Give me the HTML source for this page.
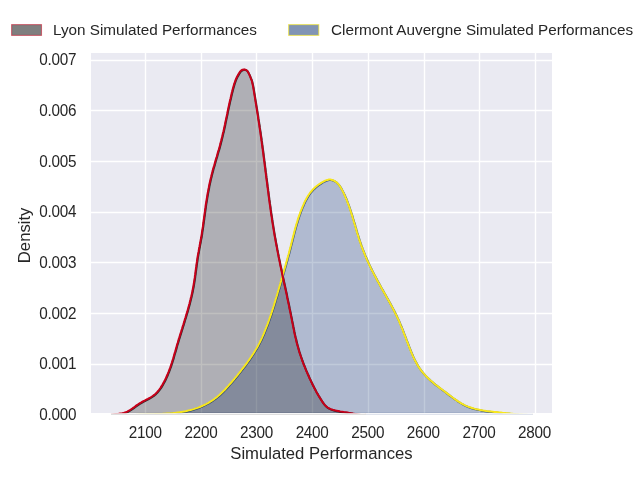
<!DOCTYPE html>
<html lang="en">
<head>
<meta charset="utf-8">
<title>Simulated Performances</title>
<style>
html,body{margin:0;padding:0;background:#fff;}
body{width:640px;height:480px;overflow:hidden;}
svg{display:block;}
text{font-family:"Liberation Sans",sans-serif;fill:#262626;}
.tick text{font-size:15.28px;letter-spacing:-0.25px;}
.lab{font-size:16.67px;}
.leg text{font-size:15.28px;}
</style>
</head>
<body>
<svg width="640" height="480" viewBox="0 0 640 480">
<defs>
<clipPath id="axf"><rect x="91" y="53" width="461" height="360"/></clipPath>
<clipPath id="axl"><rect x="91" y="53" width="461" height="361"/></clipPath>
</defs>
<rect x="0" y="0" width="640" height="480" fill="#ffffff"/>
<rect x="91" y="53" width="461" height="360" fill="#eaeaf2"/>
<g stroke="#ffffff" stroke-width="1.39" stroke-linecap="butt">
<line x1="145.5" y1="53" x2="145.5" y2="413"/>
<line x1="201.5" y1="53" x2="201.5" y2="413"/>
<line x1="256.5" y1="53" x2="256.5" y2="413"/>
<line x1="312.5" y1="53" x2="312.5" y2="413"/>
<line x1="368.5" y1="53" x2="368.5" y2="413"/>
<line x1="424.5" y1="53" x2="424.5" y2="413"/>
<line x1="479.5" y1="53" x2="479.5" y2="413"/>
<line x1="535.5" y1="53" x2="535.5" y2="413"/>
<line x1="91" y1="364.5" x2="552" y2="364.5"/>
<line x1="91" y1="313.5" x2="552" y2="313.5"/>
<line x1="91" y1="262.5" x2="552" y2="262.5"/>
<line x1="91" y1="212.5" x2="552" y2="212.5"/>
<line x1="91" y1="161.5" x2="552" y2="161.5"/>
<line x1="91" y1="110.5" x2="552" y2="110.5"/>
<line x1="91" y1="60.5" x2="552" y2="60.5"/>
</g>
<g clip-path="url(#axf)">
<path d="M136.0,414.8 L137.6,414.7 L139.2,414.6 L140.8,414.5 L142.4,414.5 L144.1,414.4 L145.7,414.4 L147.3,414.3 L148.9,414.3 L150.5,414.2 L152.1,414.2 L153.8,414.2 L155.4,414.1 L157.0,414.1 L158.6,414.0 L160.2,413.9 L161.9,413.9 L163.5,413.8 L165.1,413.7 L166.7,413.6 L168.3,413.5 L169.9,413.4 L171.5,413.2 L173.1,413.1 L174.7,412.9 L176.3,412.7 L177.9,412.5 L179.5,412.3 L181.1,412.0 L182.7,411.8 L184.3,411.5 L185.9,411.2 L187.4,410.8 L189.0,410.4 L190.6,410.0 L192.1,409.6 L193.7,409.1 L195.2,408.6 L196.7,408.1 L198.3,407.6 L199.8,407.0 L201.3,406.3 L202.8,405.7 L204.2,405.0 L205.7,404.3 L207.1,403.5 L208.5,402.8 L209.9,401.9 L211.3,401.1 L212.6,400.2 L214.0,399.3 L215.3,398.3 L216.5,397.4 L217.8,396.3 L219.0,395.3 L220.2,394.2 L221.4,393.1 L222.5,392.0 L223.7,390.8 L224.8,389.7 L225.9,388.5 L227.0,387.3 L228.1,386.1 L229.1,384.9 L230.2,383.7 L231.3,382.5 L232.3,381.3 L233.4,380.0 L234.4,378.8 L235.4,377.6 L236.5,376.3 L237.5,375.1 L238.5,373.8 L239.5,372.5 L240.5,371.3 L241.5,370.0 L242.5,368.7 L243.5,367.5 L244.5,366.2 L245.5,364.9 L246.4,363.6 L247.4,362.3 L248.3,361.0 L249.3,359.6 L250.2,358.3 L251.1,357.0 L252.0,355.6 L252.9,354.3 L253.7,352.9 L254.6,351.6 L255.4,350.2 L256.3,348.8 L257.1,347.4 L257.9,346.0 L258.6,344.6 L259.4,343.1 L260.1,341.7 L260.8,340.3 L261.5,338.8 L262.2,337.3 L262.8,335.9 L263.5,334.4 L264.1,332.9 L264.7,331.4 L265.3,329.9 L265.9,328.4 L266.5,326.9 L267.1,325.4 L267.7,323.9 L268.2,322.3 L268.8,320.8 L269.3,319.3 L269.8,317.8 L270.4,316.2 L270.9,314.7 L271.4,313.2 L271.9,311.6 L272.4,310.1 L272.9,308.6 L273.4,307.0 L273.9,305.5 L274.3,303.9 L274.8,302.4 L275.3,300.9 L275.7,299.3 L276.2,297.8 L276.7,296.2 L277.1,294.7 L277.6,293.1 L278.0,291.6 L278.5,290.0 L278.9,288.5 L279.4,286.9 L279.8,285.4 L280.3,283.8 L280.7,282.3 L281.2,280.7 L281.6,279.2 L282.1,277.6 L282.5,276.0 L282.9,274.5 L283.4,272.9 L283.8,271.4 L284.3,269.8 L284.7,268.3 L285.1,266.7 L285.6,265.2 L286.0,263.6 L286.4,262.1 L286.9,260.5 L287.3,258.9 L287.7,257.4 L288.1,255.8 L288.6,254.3 L289.0,252.7 L289.4,251.1 L289.8,249.6 L290.2,248.0 L290.6,246.4 L291.0,244.9 L291.4,243.3 L291.8,241.7 L292.2,240.2 L292.6,238.6 L293.0,237.0 L293.4,235.5 L293.8,233.9 L294.2,232.3 L294.6,230.8 L295.0,229.2 L295.4,227.7 L295.9,226.1 L296.3,224.6 L296.8,223.0 L297.3,221.5 L297.7,219.9 L298.2,218.4 L298.7,216.9 L299.2,215.3 L299.8,213.8 L300.3,212.3 L300.9,210.8 L301.5,209.3 L302.1,207.8 L302.7,206.3 L303.4,204.8 L304.0,203.3 L304.7,201.8 L305.4,200.4 L306.2,199.0 L307.0,197.5 L307.8,196.2 L308.7,194.8 L309.6,193.5 L310.5,192.2 L311.6,191.0 L312.6,189.8 L313.7,188.7 L314.9,187.6 L316.1,186.5 L317.4,185.5 L318.7,184.5 L320.1,183.6 L321.5,182.7 L323.0,181.8 L324.4,181.0 L325.9,180.4 L327.5,179.9 L329.0,179.6 L330.5,179.6 L332.0,179.9 L333.5,180.5 L334.9,181.2 L336.2,182.1 L337.4,183.2 L338.5,184.4 L339.5,185.6 L340.4,187.0 L341.2,188.4 L342.0,189.9 L342.8,191.4 L343.5,192.9 L344.2,194.3 L344.9,195.8 L345.5,197.3 L346.2,198.8 L346.8,200.3 L347.3,201.8 L347.9,203.3 L348.5,204.8 L349.0,206.3 L349.5,207.8 L350.0,209.3 L350.5,210.8 L351.0,212.3 L351.5,213.9 L352.0,215.4 L352.5,217.0 L352.9,218.5 L353.4,220.0 L353.8,221.6 L354.3,223.2 L354.8,224.7 L355.2,226.3 L355.7,227.8 L356.1,229.4 L356.6,230.9 L357.0,232.5 L357.5,234.0 L358.0,235.6 L358.5,237.1 L358.9,238.7 L359.4,240.2 L360.0,241.8 L360.5,243.3 L361.0,244.8 L361.6,246.3 L362.1,247.9 L362.7,249.4 L363.3,250.9 L363.9,252.4 L364.5,253.9 L365.1,255.4 L365.7,256.8 L366.4,258.3 L367.0,259.8 L367.7,261.3 L368.3,262.7 L369.0,264.2 L369.7,265.6 L370.4,267.1 L371.1,268.6 L371.8,270.0 L372.5,271.4 L373.3,272.9 L374.0,274.3 L374.8,275.7 L375.5,277.2 L376.3,278.6 L377.0,280.0 L377.8,281.4 L378.6,282.9 L379.4,284.3 L380.2,285.7 L380.9,287.1 L381.7,288.5 L382.5,289.9 L383.3,291.3 L384.1,292.7 L384.9,294.1 L385.7,295.5 L386.5,297.0 L387.3,298.4 L388.1,299.8 L388.9,301.2 L389.7,302.6 L390.4,304.0 L391.2,305.4 L392.0,306.9 L392.7,308.3 L393.5,309.7 L394.2,311.1 L394.9,312.6 L395.6,314.0 L396.4,315.5 L397.0,316.9 L397.7,318.4 L398.4,319.9 L399.1,321.3 L399.7,322.8 L400.3,324.3 L400.9,325.8 L401.6,327.3 L402.2,328.8 L402.8,330.3 L403.3,331.8 L403.9,333.3 L404.5,334.8 L405.1,336.3 L405.7,337.8 L406.2,339.3 L406.8,340.8 L407.4,342.4 L408.0,343.9 L408.5,345.4 L409.1,346.9 L409.7,348.4 L410.3,349.9 L410.9,351.4 L411.5,352.9 L412.2,354.4 L412.8,355.9 L413.5,357.4 L414.2,358.9 L414.9,360.3 L415.7,361.7 L416.4,363.1 L417.2,364.5 L418.0,365.9 L418.9,367.3 L419.8,368.6 L420.7,369.9 L421.7,371.2 L422.7,372.4 L423.8,373.7 L424.8,374.9 L425.9,376.0 L427.1,377.2 L428.2,378.3 L429.4,379.4 L430.6,380.5 L431.9,381.6 L433.1,382.6 L434.3,383.7 L435.6,384.7 L436.9,385.7 L438.1,386.6 L439.4,387.6 L440.7,388.6 L442.0,389.5 L443.3,390.5 L444.6,391.4 L445.8,392.4 L447.1,393.4 L448.4,394.4 L449.7,395.4 L451.0,396.3 L452.3,397.3 L453.6,398.3 L455.0,399.2 L456.3,400.1 L457.6,401.1 L459.0,401.9 L460.4,402.8 L461.8,403.6 L463.2,404.4 L464.6,405.1 L466.1,405.8 L467.5,406.4 L469.0,407.0 L470.5,407.5 L472.1,408.0 L473.6,408.5 L475.2,408.9 L476.8,409.2 L478.4,409.6 L480.0,409.9 L481.5,410.2 L483.1,410.5 L484.7,410.7 L486.3,411.0 L487.9,411.2 L489.5,411.4 L491.1,411.6 L492.7,411.8 L494.4,412.0 L496.0,412.1 L497.6,412.3 L499.2,412.5 L500.8,412.6 L502.4,412.8 L504.0,412.9 L505.6,413.1 L507.2,413.2 L508.8,413.4 L510.4,413.6 L512.0,413.7 L513.6,413.9 L515.2,414.1 L516.9,414.2 L518.5,414.4 L520.1,414.5 L521.7,414.6 L523.3,414.7 L524.9,414.8 L526.5,414.8 L528.1,414.9 L529.8,414.9 L531.4,414.9 L533.0,414.8 L533.0,416.0 L136.0,416.0 Z" fill="#042a6a" fill-opacity="0.25"/>
<path d="M110.8,414.7 L112.6,414.5 L114.4,414.3 L116.3,414.1 L118.2,413.9 L120.1,413.6 L122.0,413.3 L123.8,412.9 L125.6,412.3 L127.2,411.6 L128.9,410.7 L130.4,409.8 L132.0,408.7 L133.5,407.7 L135.0,406.6 L136.5,405.4 L138.1,404.4 L139.6,403.3 L141.3,402.4 L142.9,401.4 L144.6,400.6 L146.3,399.7 L147.9,398.9 L149.6,398.0 L151.2,397.0 L152.7,396.0 L154.2,394.9 L155.6,393.7 L156.9,392.4 L158.1,391.0 L159.3,389.5 L160.4,388.0 L161.4,386.4 L162.4,384.8 L163.3,383.1 L164.2,381.5 L165.1,379.8 L165.9,378.2 L166.6,376.5 L167.4,374.8 L168.1,373.0 L168.8,371.3 L169.4,369.6 L170.1,367.8 L170.7,366.1 L171.3,364.3 L171.9,362.5 L172.4,360.8 L173.0,359.0 L173.5,357.2 L174.0,355.4 L174.5,353.6 L175.1,351.8 L175.6,350.0 L176.1,348.2 L176.6,346.4 L177.1,344.6 L177.7,342.8 L178.2,341.0 L178.7,339.2 L179.3,337.5 L179.8,335.7 L180.4,333.9 L181.0,332.1 L181.5,330.3 L182.1,328.5 L182.6,326.7 L183.2,325.0 L183.7,323.2 L184.3,321.4 L184.8,319.6 L185.4,317.8 L185.9,316.0 L186.4,314.2 L187.0,312.4 L187.5,310.7 L188.0,308.9 L188.5,307.1 L189.0,305.3 L189.5,303.5 L189.9,301.7 L190.4,299.8 L190.8,298.0 L191.3,296.2 L191.7,294.4 L192.1,292.6 L192.5,290.8 L192.8,288.9 L193.2,287.1 L193.5,285.3 L193.8,283.4 L194.1,281.6 L194.4,279.7 L194.7,277.9 L194.9,276.0 L195.2,274.2 L195.4,272.3 L195.7,270.5 L195.9,268.6 L196.2,266.7 L196.4,264.9 L196.7,263.0 L197.0,261.2 L197.2,259.3 L197.5,257.5 L197.8,255.6 L198.1,253.8 L198.5,252.0 L198.8,250.1 L199.1,248.3 L199.5,246.5 L199.8,244.6 L200.2,242.8 L200.5,241.0 L200.8,239.1 L201.2,237.3 L201.5,235.5 L201.8,233.6 L202.0,231.8 L202.3,229.9 L202.6,228.1 L202.9,226.2 L203.1,224.4 L203.4,222.5 L203.6,220.7 L203.9,218.8 L204.1,217.0 L204.4,215.1 L204.6,213.3 L204.9,211.4 L205.1,209.6 L205.4,207.7 L205.6,205.9 L205.9,204.0 L206.2,202.2 L206.5,200.3 L206.8,198.5 L207.1,196.6 L207.4,194.8 L207.7,193.0 L208.1,191.1 L208.4,189.3 L208.8,187.5 L209.1,185.6 L209.5,183.8 L209.9,182.0 L210.3,180.2 L210.7,178.4 L211.2,176.5 L211.6,174.7 L212.1,172.9 L212.6,171.1 L213.0,169.3 L213.5,167.5 L214.1,165.7 L214.6,163.9 L215.1,162.1 L215.6,160.3 L216.1,158.5 L216.7,156.7 L217.2,154.9 L217.7,153.1 L218.2,151.3 L218.8,149.5 L219.3,147.7 L219.8,145.9 L220.3,144.1 L220.7,142.3 L221.2,140.5 L221.6,138.7 L222.1,136.9 L222.5,135.1 L222.9,133.3 L223.4,131.5 L223.8,129.7 L224.2,127.8 L224.6,126.0 L225.0,124.2 L225.3,122.4 L225.7,120.6 L226.1,118.7 L226.5,116.9 L226.9,115.1 L227.3,113.2 L227.6,111.4 L228.0,109.6 L228.4,107.7 L228.8,105.9 L229.2,104.0 L229.6,102.2 L230.0,100.4 L230.5,98.5 L230.9,96.7 L231.3,94.9 L231.7,93.1 L232.2,91.3 L232.6,89.5 L233.1,87.8 L233.6,86.0 L234.1,84.2 L234.7,82.5 L235.3,80.7 L236.0,79.0 L236.8,77.2 L237.7,75.5 L238.7,73.7 L239.8,72.0 L241.0,70.6 L242.5,69.7 L244.0,69.4 L245.7,69.7 L247.2,70.8 L248.2,72.4 L249.1,74.2 L249.9,76.0 L250.6,77.8 L251.3,79.5 L251.9,81.2 L252.3,83.0 L252.7,84.8 L253.1,86.7 L253.4,88.5 L253.7,90.4 L254.0,92.2 L254.3,94.0 L254.6,95.9 L254.9,97.7 L255.2,99.6 L255.5,101.4 L255.8,103.3 L256.1,105.1 L256.4,106.9 L256.7,108.8 L257.0,110.6 L257.3,112.5 L257.6,114.3 L257.9,116.2 L258.1,118.0 L258.4,119.9 L258.7,121.7 L259.0,123.6 L259.3,125.4 L259.5,127.2 L259.8,129.1 L260.1,130.9 L260.4,132.8 L260.6,134.6 L260.9,136.5 L261.2,138.3 L261.4,140.2 L261.7,142.0 L261.9,143.9 L262.2,145.7 L262.4,147.6 L262.7,149.4 L262.9,151.3 L263.2,153.1 L263.4,155.0 L263.6,156.8 L263.9,158.7 L264.1,160.5 L264.4,162.4 L264.6,164.3 L264.8,166.1 L265.1,168.0 L265.3,169.8 L265.5,171.7 L265.8,173.5 L266.0,175.4 L266.2,177.2 L266.5,179.1 L266.7,180.9 L267.0,182.8 L267.2,184.6 L267.4,186.5 L267.7,188.3 L267.9,190.2 L268.2,192.1 L268.4,193.9 L268.6,195.8 L268.9,197.6 L269.1,199.5 L269.4,201.3 L269.6,203.2 L269.9,205.0 L270.2,206.9 L270.4,208.7 L270.7,210.6 L270.9,212.4 L271.2,214.3 L271.5,216.1 L271.8,217.9 L272.0,219.8 L272.3,221.6 L272.6,223.5 L272.9,225.3 L273.2,227.2 L273.5,229.0 L273.8,230.9 L274.1,232.7 L274.4,234.5 L274.7,236.4 L275.1,238.2 L275.4,240.0 L275.7,241.9 L276.1,243.7 L276.4,245.6 L276.8,247.4 L277.1,249.2 L277.5,251.1 L277.8,252.9 L278.2,254.7 L278.5,256.5 L278.9,258.4 L279.3,260.2 L279.7,262.0 L280.0,263.9 L280.4,265.7 L280.8,267.5 L281.2,269.3 L281.6,271.2 L282.0,273.0 L282.3,274.8 L282.7,276.7 L283.1,278.5 L283.5,280.3 L283.9,282.1 L284.3,284.0 L284.7,285.8 L285.1,287.6 L285.5,289.4 L285.9,291.3 L286.3,293.1 L286.7,294.9 L287.0,296.7 L287.4,298.6 L287.8,300.4 L288.2,302.2 L288.6,304.1 L289.0,305.9 L289.3,307.7 L289.7,309.5 L290.1,311.4 L290.5,313.2 L290.8,315.0 L291.2,316.9 L291.6,318.7 L291.9,320.5 L292.3,322.4 L292.7,324.2 L293.0,326.0 L293.4,327.9 L293.8,329.7 L294.1,331.5 L294.5,333.4 L294.9,335.2 L295.3,337.0 L295.8,338.8 L296.2,340.6 L296.6,342.4 L297.1,344.3 L297.6,346.1 L298.1,347.8 L298.6,349.6 L299.1,351.4 L299.7,353.2 L300.3,355.0 L300.9,356.8 L301.5,358.5 L302.1,360.3 L302.8,362.0 L303.4,363.8 L304.1,365.5 L304.8,367.2 L305.5,369.0 L306.2,370.7 L307.0,372.4 L307.7,374.1 L308.5,375.8 L309.2,377.5 L310.0,379.2 L310.8,380.9 L311.6,382.6 L312.4,384.3 L313.3,386.0 L314.1,387.6 L315.0,389.3 L315.8,390.9 L316.7,392.6 L317.7,394.2 L318.6,395.8 L319.6,397.4 L320.6,399.0 L321.6,400.6 L322.6,402.2 L323.7,403.7 L324.9,405.1 L326.2,406.4 L327.6,407.5 L329.2,408.5 L330.9,409.2 L332.8,409.8 L334.6,410.3 L336.5,410.7 L338.3,411.1 L340.1,411.5 L342.0,411.8 L343.8,412.1 L345.6,412.3 L347.5,412.6 L349.3,412.9 L351.1,413.2 L353.0,413.6 L354.8,413.9 L356.7,414.2 L358.6,414.5 L360.4,414.8 L362.3,414.9 L364.2,414.9 L366.0,414.8 L366.0,416.0 L110.8,416.0 Z" fill="#000000" fill-opacity="0.25"/>
</g>
<g clip-path="url(#axl)" fill="none" stroke-width="2.0" stroke-linejoin="round" stroke-linecap="butt">
<path d="M136.0,414.8 L137.6,414.7 L139.2,414.6 L140.8,414.5 L142.4,414.5 L144.1,414.4 L145.7,414.4 L147.3,414.3 L148.9,414.3 L150.5,414.2 L152.1,414.2 L153.8,414.2 L155.4,414.1 L157.0,414.1 L158.6,414.0 L160.2,413.9 L161.9,413.9 L163.5,413.8 L165.1,413.7 L166.7,413.6 L168.3,413.5 L169.9,413.4 L171.5,413.2 L173.1,413.1 L174.7,412.9 L176.3,412.7 L177.9,412.5 L179.5,412.3 L181.1,412.0 L182.7,411.8 L184.3,411.5 L185.9,411.2 L187.4,410.8 L189.0,410.4 L190.6,410.0 L192.1,409.6 L193.7,409.1 L195.2,408.6 L196.7,408.1 L198.3,407.6 L199.8,407.0 L201.3,406.3 L202.8,405.7 L204.2,405.0 L205.7,404.3 L207.1,403.5 L208.5,402.8 L209.9,401.9 L211.3,401.1 L212.6,400.2 L214.0,399.3 L215.3,398.3 L216.5,397.4 L217.8,396.3 L219.0,395.3 L220.2,394.2 L221.4,393.1 L222.5,392.0 L223.7,390.8 L224.8,389.7 L225.9,388.5 L227.0,387.3 L228.1,386.1 L229.1,384.9 L230.2,383.7 L231.3,382.5 L232.3,381.3 L233.4,380.0 L234.4,378.8 L235.4,377.6 L236.5,376.3 L237.5,375.1 L238.5,373.8 L239.5,372.5 L240.5,371.3 L241.5,370.0 L242.5,368.7 L243.5,367.5 L244.5,366.2 L245.5,364.9 L246.4,363.6 L247.4,362.3 L248.3,361.0 L249.3,359.6 L250.2,358.3 L251.1,357.0 L252.0,355.6 L252.9,354.3 L253.7,352.9 L254.6,351.6 L255.4,350.2 L256.3,348.8 L257.1,347.4 L257.9,346.0 L258.6,344.6 L259.4,343.1 L260.1,341.7 L260.8,340.3 L261.5,338.8 L262.2,337.3 L262.8,335.9 L263.5,334.4 L264.1,332.9 L264.7,331.4 L265.3,329.9 L265.9,328.4 L266.5,326.9 L267.1,325.4 L267.7,323.9 L268.2,322.3 L268.8,320.8 L269.3,319.3 L269.8,317.8 L270.4,316.2 L270.9,314.7 L271.4,313.2 L271.9,311.6 L272.4,310.1 L272.9,308.6 L273.4,307.0 L273.9,305.5 L274.3,303.9 L274.8,302.4 L275.3,300.9 L275.7,299.3 L276.2,297.8 L276.7,296.2 L277.1,294.7 L277.6,293.1 L278.0,291.6 L278.5,290.0 L278.9,288.5 L279.4,286.9 L279.8,285.4 L280.3,283.8 L280.7,282.3 L281.2,280.7 L281.6,279.2 L282.1,277.6 L282.5,276.0 L282.9,274.5 L283.4,272.9 L283.8,271.4 L284.3,269.8 L284.7,268.3 L285.1,266.7 L285.6,265.2 L286.0,263.6 L286.4,262.1 L286.9,260.5 L287.3,258.9 L287.7,257.4 L288.1,255.8 L288.6,254.3 L289.0,252.7 L289.4,251.1 L289.8,249.6 L290.2,248.0 L290.6,246.4 L291.0,244.9 L291.4,243.3 L291.8,241.7 L292.2,240.2 L292.6,238.6 L293.0,237.0 L293.4,235.5 L293.8,233.9 L294.2,232.3 L294.6,230.8 L295.0,229.2 L295.4,227.7 L295.9,226.1 L296.3,224.6 L296.8,223.0 L297.3,221.5 L297.7,219.9 L298.2,218.4 L298.7,216.9 L299.2,215.3 L299.8,213.8 L300.3,212.3 L300.9,210.8 L301.5,209.3 L302.1,207.8 L302.7,206.3 L303.4,204.8 L304.0,203.3 L304.7,201.8 L305.4,200.4 L306.2,199.0 L307.0,197.5 L307.8,196.2 L308.7,194.8 L309.6,193.5 L310.5,192.2 L311.6,191.0 L312.6,189.8 L313.7,188.7 L314.9,187.6 L316.1,186.5 L317.4,185.5 L318.7,184.5 L320.1,183.6 L321.5,182.7 L323.0,181.8 L324.4,181.0 L325.9,180.4 L327.5,179.9 L329.0,179.6 L330.5,179.6 L332.0,179.9 L333.5,180.5 L334.9,181.2 L336.2,182.1 L337.4,183.2 L338.5,184.4 L339.5,185.6 L340.4,187.0 L341.2,188.4 L342.0,189.9 L342.8,191.4 L343.5,192.9 L344.2,194.3 L344.9,195.8 L345.5,197.3 L346.2,198.8 L346.8,200.3 L347.3,201.8 L347.9,203.3 L348.5,204.8 L349.0,206.3 L349.5,207.8 L350.0,209.3 L350.5,210.8 L351.0,212.3 L351.5,213.9 L352.0,215.4 L352.5,217.0 L352.9,218.5 L353.4,220.0 L353.8,221.6 L354.3,223.2 L354.8,224.7 L355.2,226.3 L355.7,227.8 L356.1,229.4 L356.6,230.9 L357.0,232.5 L357.5,234.0 L358.0,235.6 L358.5,237.1 L358.9,238.7 L359.4,240.2 L360.0,241.8 L360.5,243.3 L361.0,244.8 L361.6,246.3 L362.1,247.9 L362.7,249.4 L363.3,250.9 L363.9,252.4 L364.5,253.9 L365.1,255.4 L365.7,256.8 L366.4,258.3 L367.0,259.8 L367.7,261.3 L368.3,262.7 L369.0,264.2 L369.7,265.6 L370.4,267.1 L371.1,268.6 L371.8,270.0 L372.5,271.4 L373.3,272.9 L374.0,274.3 L374.8,275.7 L375.5,277.2 L376.3,278.6 L377.0,280.0 L377.8,281.4 L378.6,282.9 L379.4,284.3 L380.2,285.7 L380.9,287.1 L381.7,288.5 L382.5,289.9 L383.3,291.3 L384.1,292.7 L384.9,294.1 L385.7,295.5 L386.5,297.0 L387.3,298.4 L388.1,299.8 L388.9,301.2 L389.7,302.6 L390.4,304.0 L391.2,305.4 L392.0,306.9 L392.7,308.3 L393.5,309.7 L394.2,311.1 L394.9,312.6 L395.6,314.0 L396.4,315.5 L397.0,316.9 L397.7,318.4 L398.4,319.9 L399.1,321.3 L399.7,322.8 L400.3,324.3 L400.9,325.8 L401.6,327.3 L402.2,328.8 L402.8,330.3 L403.3,331.8 L403.9,333.3 L404.5,334.8 L405.1,336.3 L405.7,337.8 L406.2,339.3 L406.8,340.8 L407.4,342.4 L408.0,343.9 L408.5,345.4 L409.1,346.9 L409.7,348.4 L410.3,349.9 L410.9,351.4 L411.5,352.9 L412.2,354.4 L412.8,355.9 L413.5,357.4 L414.2,358.9 L414.9,360.3 L415.7,361.7 L416.4,363.1 L417.2,364.5 L418.0,365.9 L418.9,367.3 L419.8,368.6 L420.7,369.9 L421.7,371.2 L422.7,372.4 L423.8,373.7 L424.8,374.9 L425.9,376.0 L427.1,377.2 L428.2,378.3 L429.4,379.4 L430.6,380.5 L431.9,381.6 L433.1,382.6 L434.3,383.7 L435.6,384.7 L436.9,385.7 L438.1,386.6 L439.4,387.6 L440.7,388.6 L442.0,389.5 L443.3,390.5 L444.6,391.4 L445.8,392.4 L447.1,393.4 L448.4,394.4 L449.7,395.4 L451.0,396.3 L452.3,397.3 L453.6,398.3 L455.0,399.2 L456.3,400.1 L457.6,401.1 L459.0,401.9 L460.4,402.8 L461.8,403.6 L463.2,404.4 L464.6,405.1 L466.1,405.8 L467.5,406.4 L469.0,407.0 L470.5,407.5 L472.1,408.0 L473.6,408.5 L475.2,408.9 L476.8,409.2 L478.4,409.6 L480.0,409.9 L481.5,410.2 L483.1,410.5 L484.7,410.7 L486.3,411.0 L487.9,411.2 L489.5,411.4 L491.1,411.6 L492.7,411.8 L494.4,412.0 L496.0,412.1 L497.6,412.3 L499.2,412.5 L500.8,412.6 L502.4,412.8 L504.0,412.9 L505.6,413.1 L507.2,413.2 L508.8,413.4 L510.4,413.6 L512.0,413.7 L513.6,413.9 L515.2,414.1 L516.9,414.2 L518.5,414.4 L520.1,414.5 L521.7,414.6 L523.3,414.7 L524.9,414.8 L526.5,414.8 L528.1,414.9 L529.8,414.9 L531.4,414.9 L533.0,414.8" stroke="#042a6a" stroke-opacity="0.75" transform="translate(0.4,0.45)"/>
<path d="M110.8,414.7 L112.6,414.5 L114.4,414.3 L116.3,414.1 L118.2,413.9 L120.1,413.6 L122.0,413.3 L123.8,412.9 L125.6,412.3 L127.2,411.6 L128.9,410.7 L130.4,409.8 L132.0,408.7 L133.5,407.7 L135.0,406.6 L136.5,405.4 L138.1,404.4 L139.6,403.3 L141.3,402.4 L142.9,401.4 L144.6,400.6 L146.3,399.7 L147.9,398.9 L149.6,398.0 L151.2,397.0 L152.7,396.0 L154.2,394.9 L155.6,393.7 L156.9,392.4 L158.1,391.0 L159.3,389.5 L160.4,388.0 L161.4,386.4 L162.4,384.8 L163.3,383.1 L164.2,381.5 L165.1,379.8 L165.9,378.2 L166.6,376.5 L167.4,374.8 L168.1,373.0 L168.8,371.3 L169.4,369.6 L170.1,367.8 L170.7,366.1 L171.3,364.3 L171.9,362.5 L172.4,360.8 L173.0,359.0 L173.5,357.2 L174.0,355.4 L174.5,353.6 L175.1,351.8 L175.6,350.0 L176.1,348.2 L176.6,346.4 L177.1,344.6 L177.7,342.8 L178.2,341.0 L178.7,339.2 L179.3,337.5 L179.8,335.7 L180.4,333.9 L181.0,332.1 L181.5,330.3 L182.1,328.5 L182.6,326.7 L183.2,325.0 L183.7,323.2 L184.3,321.4 L184.8,319.6 L185.4,317.8 L185.9,316.0 L186.4,314.2 L187.0,312.4 L187.5,310.7 L188.0,308.9 L188.5,307.1 L189.0,305.3 L189.5,303.5 L189.9,301.7 L190.4,299.8 L190.8,298.0 L191.3,296.2 L191.7,294.4 L192.1,292.6 L192.5,290.8 L192.8,288.9 L193.2,287.1 L193.5,285.3 L193.8,283.4 L194.1,281.6 L194.4,279.7 L194.7,277.9 L194.9,276.0 L195.2,274.2 L195.4,272.3 L195.7,270.5 L195.9,268.6 L196.2,266.7 L196.4,264.9 L196.7,263.0 L197.0,261.2 L197.2,259.3 L197.5,257.5 L197.8,255.6 L198.1,253.8 L198.5,252.0 L198.8,250.1 L199.1,248.3 L199.5,246.5 L199.8,244.6 L200.2,242.8 L200.5,241.0 L200.8,239.1 L201.2,237.3 L201.5,235.5 L201.8,233.6 L202.0,231.8 L202.3,229.9 L202.6,228.1 L202.9,226.2 L203.1,224.4 L203.4,222.5 L203.6,220.7 L203.9,218.8 L204.1,217.0 L204.4,215.1 L204.6,213.3 L204.9,211.4 L205.1,209.6 L205.4,207.7 L205.6,205.9 L205.9,204.0 L206.2,202.2 L206.5,200.3 L206.8,198.5 L207.1,196.6 L207.4,194.8 L207.7,193.0 L208.1,191.1 L208.4,189.3 L208.8,187.5 L209.1,185.6 L209.5,183.8 L209.9,182.0 L210.3,180.2 L210.7,178.4 L211.2,176.5 L211.6,174.7 L212.1,172.9 L212.6,171.1 L213.0,169.3 L213.5,167.5 L214.1,165.7 L214.6,163.9 L215.1,162.1 L215.6,160.3 L216.1,158.5 L216.7,156.7 L217.2,154.9 L217.7,153.1 L218.2,151.3 L218.8,149.5 L219.3,147.7 L219.8,145.9 L220.3,144.1 L220.7,142.3 L221.2,140.5 L221.6,138.7 L222.1,136.9 L222.5,135.1 L222.9,133.3 L223.4,131.5 L223.8,129.7 L224.2,127.8 L224.6,126.0 L225.0,124.2 L225.3,122.4 L225.7,120.6 L226.1,118.7 L226.5,116.9 L226.9,115.1 L227.3,113.2 L227.6,111.4 L228.0,109.6 L228.4,107.7 L228.8,105.9 L229.2,104.0 L229.6,102.2 L230.0,100.4 L230.5,98.5 L230.9,96.7 L231.3,94.9 L231.7,93.1 L232.2,91.3 L232.6,89.5 L233.1,87.8 L233.6,86.0 L234.1,84.2 L234.7,82.5 L235.3,80.7 L236.0,79.0 L236.8,77.2 L237.7,75.5 L238.7,73.7 L239.8,72.0 L241.0,70.6 L242.5,69.7 L244.0,69.4 L245.7,69.7 L247.2,70.8 L248.2,72.4 L249.1,74.2 L249.9,76.0 L250.6,77.8 L251.3,79.5 L251.9,81.2 L252.3,83.0 L252.7,84.8 L253.1,86.7 L253.4,88.5 L253.7,90.4 L254.0,92.2 L254.3,94.0 L254.6,95.9 L254.9,97.7 L255.2,99.6 L255.5,101.4 L255.8,103.3 L256.1,105.1 L256.4,106.9 L256.7,108.8 L257.0,110.6 L257.3,112.5 L257.6,114.3 L257.9,116.2 L258.1,118.0 L258.4,119.9 L258.7,121.7 L259.0,123.6 L259.3,125.4 L259.5,127.2 L259.8,129.1 L260.1,130.9 L260.4,132.8 L260.6,134.6 L260.9,136.5 L261.2,138.3 L261.4,140.2 L261.7,142.0 L261.9,143.9 L262.2,145.7 L262.4,147.6 L262.7,149.4 L262.9,151.3 L263.2,153.1 L263.4,155.0 L263.6,156.8 L263.9,158.7 L264.1,160.5 L264.4,162.4 L264.6,164.3 L264.8,166.1 L265.1,168.0 L265.3,169.8 L265.5,171.7 L265.8,173.5 L266.0,175.4 L266.2,177.2 L266.5,179.1 L266.7,180.9 L267.0,182.8 L267.2,184.6 L267.4,186.5 L267.7,188.3 L267.9,190.2 L268.2,192.1 L268.4,193.9 L268.6,195.8 L268.9,197.6 L269.1,199.5 L269.4,201.3 L269.6,203.2 L269.9,205.0 L270.2,206.9 L270.4,208.7 L270.7,210.6 L270.9,212.4 L271.2,214.3 L271.5,216.1 L271.8,217.9 L272.0,219.8 L272.3,221.6 L272.6,223.5 L272.9,225.3 L273.2,227.2 L273.5,229.0 L273.8,230.9 L274.1,232.7 L274.4,234.5 L274.7,236.4 L275.1,238.2 L275.4,240.0 L275.7,241.9 L276.1,243.7 L276.4,245.6 L276.8,247.4 L277.1,249.2 L277.5,251.1 L277.8,252.9 L278.2,254.7 L278.5,256.5 L278.9,258.4 L279.3,260.2 L279.7,262.0 L280.0,263.9 L280.4,265.7 L280.8,267.5 L281.2,269.3 L281.6,271.2 L282.0,273.0 L282.3,274.8 L282.7,276.7 L283.1,278.5 L283.5,280.3 L283.9,282.1 L284.3,284.0 L284.7,285.8 L285.1,287.6 L285.5,289.4 L285.9,291.3 L286.3,293.1 L286.7,294.9 L287.0,296.7 L287.4,298.6 L287.8,300.4 L288.2,302.2 L288.6,304.1 L289.0,305.9 L289.3,307.7 L289.7,309.5 L290.1,311.4 L290.5,313.2 L290.8,315.0 L291.2,316.9 L291.6,318.7 L291.9,320.5 L292.3,322.4 L292.7,324.2 L293.0,326.0 L293.4,327.9 L293.8,329.7 L294.1,331.5 L294.5,333.4 L294.9,335.2 L295.3,337.0 L295.8,338.8 L296.2,340.6 L296.6,342.4 L297.1,344.3 L297.6,346.1 L298.1,347.8 L298.6,349.6 L299.1,351.4 L299.7,353.2 L300.3,355.0 L300.9,356.8 L301.5,358.5 L302.1,360.3 L302.8,362.0 L303.4,363.8 L304.1,365.5 L304.8,367.2 L305.5,369.0 L306.2,370.7 L307.0,372.4 L307.7,374.1 L308.5,375.8 L309.2,377.5 L310.0,379.2 L310.8,380.9 L311.6,382.6 L312.4,384.3 L313.3,386.0 L314.1,387.6 L315.0,389.3 L315.8,390.9 L316.7,392.6 L317.7,394.2 L318.6,395.8 L319.6,397.4 L320.6,399.0 L321.6,400.6 L322.6,402.2 L323.7,403.7 L324.9,405.1 L326.2,406.4 L327.6,407.5 L329.2,408.5 L330.9,409.2 L332.8,409.8 L334.6,410.3 L336.5,410.7 L338.3,411.1 L340.1,411.5 L342.0,411.8 L343.8,412.1 L345.6,412.3 L347.5,412.6 L349.3,412.9 L351.1,413.2 L353.0,413.6 L354.8,413.9 L356.7,414.2 L358.6,414.5 L360.4,414.8 L362.3,414.9 L364.2,414.9 L366.0,414.8" stroke="#000000" stroke-opacity="0.75" transform="translate(0.4,0.45)"/>
<path d="M136.0,414.8 L137.6,414.7 L139.2,414.6 L140.8,414.5 L142.4,414.5 L144.1,414.4 L145.7,414.4 L147.3,414.3 L148.9,414.3 L150.5,414.2 L152.1,414.2 L153.8,414.2 L155.4,414.1 L157.0,414.1 L158.6,414.0 L160.2,413.9 L161.9,413.9 L163.5,413.8 L165.1,413.7 L166.7,413.6 L168.3,413.5 L169.9,413.4 L171.5,413.2 L173.1,413.1 L174.7,412.9 L176.3,412.7 L177.9,412.5 L179.5,412.3 L181.1,412.0 L182.7,411.8 L184.3,411.5 L185.9,411.2 L187.4,410.8 L189.0,410.4 L190.6,410.0 L192.1,409.6 L193.7,409.1 L195.2,408.6 L196.7,408.1 L198.3,407.6 L199.8,407.0 L201.3,406.3 L202.8,405.7 L204.2,405.0 L205.7,404.3 L207.1,403.5 L208.5,402.8 L209.9,401.9 L211.3,401.1 L212.6,400.2 L214.0,399.3 L215.3,398.3 L216.5,397.4 L217.8,396.3 L219.0,395.3 L220.2,394.2 L221.4,393.1 L222.5,392.0 L223.7,390.8 L224.8,389.7 L225.9,388.5 L227.0,387.3 L228.1,386.1 L229.1,384.9 L230.2,383.7 L231.3,382.5 L232.3,381.3 L233.4,380.0 L234.4,378.8 L235.4,377.6 L236.5,376.3 L237.5,375.1 L238.5,373.8 L239.5,372.5 L240.5,371.3 L241.5,370.0 L242.5,368.7 L243.5,367.5 L244.5,366.2 L245.5,364.9 L246.4,363.6 L247.4,362.3 L248.3,361.0 L249.3,359.6 L250.2,358.3 L251.1,357.0 L252.0,355.6 L252.9,354.3 L253.7,352.9 L254.6,351.6 L255.4,350.2 L256.3,348.8 L257.1,347.4 L257.9,346.0 L258.6,344.6 L259.4,343.1 L260.1,341.7 L260.8,340.3 L261.5,338.8 L262.2,337.3 L262.8,335.9 L263.5,334.4 L264.1,332.9 L264.7,331.4 L265.3,329.9 L265.9,328.4 L266.5,326.9 L267.1,325.4 L267.7,323.9 L268.2,322.3 L268.8,320.8 L269.3,319.3 L269.8,317.8 L270.4,316.2 L270.9,314.7 L271.4,313.2 L271.9,311.6 L272.4,310.1 L272.9,308.6 L273.4,307.0 L273.9,305.5 L274.3,303.9 L274.8,302.4 L275.3,300.9 L275.7,299.3 L276.2,297.8 L276.7,296.2 L277.1,294.7 L277.6,293.1 L278.0,291.6 L278.5,290.0 L278.9,288.5 L279.4,286.9 L279.8,285.4 L280.3,283.8 L280.7,282.3 L281.2,280.7 L281.6,279.2 L282.1,277.6 L282.5,276.0 L282.9,274.5 L283.4,272.9 L283.8,271.4 L284.3,269.8 L284.7,268.3 L285.1,266.7 L285.6,265.2 L286.0,263.6 L286.4,262.1 L286.9,260.5 L287.3,258.9 L287.7,257.4 L288.1,255.8 L288.6,254.3 L289.0,252.7 L289.4,251.1 L289.8,249.6 L290.2,248.0 L290.6,246.4 L291.0,244.9 L291.4,243.3 L291.8,241.7 L292.2,240.2 L292.6,238.6 L293.0,237.0 L293.4,235.5 L293.8,233.9 L294.2,232.3 L294.6,230.8 L295.0,229.2 L295.4,227.7 L295.9,226.1 L296.3,224.6 L296.8,223.0 L297.3,221.5 L297.7,219.9 L298.2,218.4 L298.7,216.9 L299.2,215.3 L299.8,213.8 L300.3,212.3 L300.9,210.8 L301.5,209.3 L302.1,207.8 L302.7,206.3 L303.4,204.8 L304.0,203.3 L304.7,201.8 L305.4,200.4 L306.2,199.0 L307.0,197.5 L307.8,196.2 L308.7,194.8 L309.6,193.5 L310.5,192.2 L311.6,191.0 L312.6,189.8 L313.7,188.7 L314.9,187.6 L316.1,186.5 L317.4,185.5 L318.7,184.5 L320.1,183.6 L321.5,182.7 L323.0,181.8 L324.4,181.0 L325.9,180.4 L327.5,179.9 L329.0,179.6 L330.5,179.6 L332.0,179.9 L333.5,180.5 L334.9,181.2 L336.2,182.1 L337.4,183.2 L338.5,184.4 L339.5,185.6 L340.4,187.0 L341.2,188.4 L342.0,189.9 L342.8,191.4 L343.5,192.9 L344.2,194.3 L344.9,195.8 L345.5,197.3 L346.2,198.8 L346.8,200.3 L347.3,201.8 L347.9,203.3 L348.5,204.8 L349.0,206.3 L349.5,207.8 L350.0,209.3 L350.5,210.8 L351.0,212.3 L351.5,213.9 L352.0,215.4 L352.5,217.0 L352.9,218.5 L353.4,220.0 L353.8,221.6 L354.3,223.2 L354.8,224.7 L355.2,226.3 L355.7,227.8 L356.1,229.4 L356.6,230.9 L357.0,232.5 L357.5,234.0 L358.0,235.6 L358.5,237.1 L358.9,238.7 L359.4,240.2 L360.0,241.8 L360.5,243.3 L361.0,244.8 L361.6,246.3 L362.1,247.9 L362.7,249.4 L363.3,250.9 L363.9,252.4 L364.5,253.9 L365.1,255.4 L365.7,256.8 L366.4,258.3 L367.0,259.8 L367.7,261.3 L368.3,262.7 L369.0,264.2 L369.7,265.6 L370.4,267.1 L371.1,268.6 L371.8,270.0 L372.5,271.4 L373.3,272.9 L374.0,274.3 L374.8,275.7 L375.5,277.2 L376.3,278.6 L377.0,280.0 L377.8,281.4 L378.6,282.9 L379.4,284.3 L380.2,285.7 L380.9,287.1 L381.7,288.5 L382.5,289.9 L383.3,291.3 L384.1,292.7 L384.9,294.1 L385.7,295.5 L386.5,297.0 L387.3,298.4 L388.1,299.8 L388.9,301.2 L389.7,302.6 L390.4,304.0 L391.2,305.4 L392.0,306.9 L392.7,308.3 L393.5,309.7 L394.2,311.1 L394.9,312.6 L395.6,314.0 L396.4,315.5 L397.0,316.9 L397.7,318.4 L398.4,319.9 L399.1,321.3 L399.7,322.8 L400.3,324.3 L400.9,325.8 L401.6,327.3 L402.2,328.8 L402.8,330.3 L403.3,331.8 L403.9,333.3 L404.5,334.8 L405.1,336.3 L405.7,337.8 L406.2,339.3 L406.8,340.8 L407.4,342.4 L408.0,343.9 L408.5,345.4 L409.1,346.9 L409.7,348.4 L410.3,349.9 L410.9,351.4 L411.5,352.9 L412.2,354.4 L412.8,355.9 L413.5,357.4 L414.2,358.9 L414.9,360.3 L415.7,361.7 L416.4,363.1 L417.2,364.5 L418.0,365.9 L418.9,367.3 L419.8,368.6 L420.7,369.9 L421.7,371.2 L422.7,372.4 L423.8,373.7 L424.8,374.9 L425.9,376.0 L427.1,377.2 L428.2,378.3 L429.4,379.4 L430.6,380.5 L431.9,381.6 L433.1,382.6 L434.3,383.7 L435.6,384.7 L436.9,385.7 L438.1,386.6 L439.4,387.6 L440.7,388.6 L442.0,389.5 L443.3,390.5 L444.6,391.4 L445.8,392.4 L447.1,393.4 L448.4,394.4 L449.7,395.4 L451.0,396.3 L452.3,397.3 L453.6,398.3 L455.0,399.2 L456.3,400.1 L457.6,401.1 L459.0,401.9 L460.4,402.8 L461.8,403.6 L463.2,404.4 L464.6,405.1 L466.1,405.8 L467.5,406.4 L469.0,407.0 L470.5,407.5 L472.1,408.0 L473.6,408.5 L475.2,408.9 L476.8,409.2 L478.4,409.6 L480.0,409.9 L481.5,410.2 L483.1,410.5 L484.7,410.7 L486.3,411.0 L487.9,411.2 L489.5,411.4 L491.1,411.6 L492.7,411.8 L494.4,412.0 L496.0,412.1 L497.6,412.3 L499.2,412.5 L500.8,412.6 L502.4,412.8 L504.0,412.9 L505.6,413.1 L507.2,413.2 L508.8,413.4 L510.4,413.6 L512.0,413.7 L513.6,413.9 L515.2,414.1 L516.9,414.2 L518.5,414.4 L520.1,414.5 L521.7,414.6 L523.3,414.7 L524.9,414.8 L526.5,414.8 L528.1,414.9 L529.8,414.9 L531.4,414.9 L533.0,414.8" stroke="#f8e71c"/>
<path d="M110.8,414.7 L112.6,414.5 L114.4,414.3 L116.3,414.1 L118.2,413.9 L120.1,413.6 L122.0,413.3 L123.8,412.9 L125.6,412.3 L127.2,411.6 L128.9,410.7 L130.4,409.8 L132.0,408.7 L133.5,407.7 L135.0,406.6 L136.5,405.4 L138.1,404.4 L139.6,403.3 L141.3,402.4 L142.9,401.4 L144.6,400.6 L146.3,399.7 L147.9,398.9 L149.6,398.0 L151.2,397.0 L152.7,396.0 L154.2,394.9 L155.6,393.7 L156.9,392.4 L158.1,391.0 L159.3,389.5 L160.4,388.0 L161.4,386.4 L162.4,384.8 L163.3,383.1 L164.2,381.5 L165.1,379.8 L165.9,378.2 L166.6,376.5 L167.4,374.8 L168.1,373.0 L168.8,371.3 L169.4,369.6 L170.1,367.8 L170.7,366.1 L171.3,364.3 L171.9,362.5 L172.4,360.8 L173.0,359.0 L173.5,357.2 L174.0,355.4 L174.5,353.6 L175.1,351.8 L175.6,350.0 L176.1,348.2 L176.6,346.4 L177.1,344.6 L177.7,342.8 L178.2,341.0 L178.7,339.2 L179.3,337.5 L179.8,335.7 L180.4,333.9 L181.0,332.1 L181.5,330.3 L182.1,328.5 L182.6,326.7 L183.2,325.0 L183.7,323.2 L184.3,321.4 L184.8,319.6 L185.4,317.8 L185.9,316.0 L186.4,314.2 L187.0,312.4 L187.5,310.7 L188.0,308.9 L188.5,307.1 L189.0,305.3 L189.5,303.5 L189.9,301.7 L190.4,299.8 L190.8,298.0 L191.3,296.2 L191.7,294.4 L192.1,292.6 L192.5,290.8 L192.8,288.9 L193.2,287.1 L193.5,285.3 L193.8,283.4 L194.1,281.6 L194.4,279.7 L194.7,277.9 L194.9,276.0 L195.2,274.2 L195.4,272.3 L195.7,270.5 L195.9,268.6 L196.2,266.7 L196.4,264.9 L196.7,263.0 L197.0,261.2 L197.2,259.3 L197.5,257.5 L197.8,255.6 L198.1,253.8 L198.5,252.0 L198.8,250.1 L199.1,248.3 L199.5,246.5 L199.8,244.6 L200.2,242.8 L200.5,241.0 L200.8,239.1 L201.2,237.3 L201.5,235.5 L201.8,233.6 L202.0,231.8 L202.3,229.9 L202.6,228.1 L202.9,226.2 L203.1,224.4 L203.4,222.5 L203.6,220.7 L203.9,218.8 L204.1,217.0 L204.4,215.1 L204.6,213.3 L204.9,211.4 L205.1,209.6 L205.4,207.7 L205.6,205.9 L205.9,204.0 L206.2,202.2 L206.5,200.3 L206.8,198.5 L207.1,196.6 L207.4,194.8 L207.7,193.0 L208.1,191.1 L208.4,189.3 L208.8,187.5 L209.1,185.6 L209.5,183.8 L209.9,182.0 L210.3,180.2 L210.7,178.4 L211.2,176.5 L211.6,174.7 L212.1,172.9 L212.6,171.1 L213.0,169.3 L213.5,167.5 L214.1,165.7 L214.6,163.9 L215.1,162.1 L215.6,160.3 L216.1,158.5 L216.7,156.7 L217.2,154.9 L217.7,153.1 L218.2,151.3 L218.8,149.5 L219.3,147.7 L219.8,145.9 L220.3,144.1 L220.7,142.3 L221.2,140.5 L221.6,138.7 L222.1,136.9 L222.5,135.1 L222.9,133.3 L223.4,131.5 L223.8,129.7 L224.2,127.8 L224.6,126.0 L225.0,124.2 L225.3,122.4 L225.7,120.6 L226.1,118.7 L226.5,116.9 L226.9,115.1 L227.3,113.2 L227.6,111.4 L228.0,109.6 L228.4,107.7 L228.8,105.9 L229.2,104.0 L229.6,102.2 L230.0,100.4 L230.5,98.5 L230.9,96.7 L231.3,94.9 L231.7,93.1 L232.2,91.3 L232.6,89.5 L233.1,87.8 L233.6,86.0 L234.1,84.2 L234.7,82.5 L235.3,80.7 L236.0,79.0 L236.8,77.2 L237.7,75.5 L238.7,73.7 L239.8,72.0 L241.0,70.6 L242.5,69.7 L244.0,69.4 L245.7,69.7 L247.2,70.8 L248.2,72.4 L249.1,74.2 L249.9,76.0 L250.6,77.8 L251.3,79.5 L251.9,81.2 L252.3,83.0 L252.7,84.8 L253.1,86.7 L253.4,88.5 L253.7,90.4 L254.0,92.2 L254.3,94.0 L254.6,95.9 L254.9,97.7 L255.2,99.6 L255.5,101.4 L255.8,103.3 L256.1,105.1 L256.4,106.9 L256.7,108.8 L257.0,110.6 L257.3,112.5 L257.6,114.3 L257.9,116.2 L258.1,118.0 L258.4,119.9 L258.7,121.7 L259.0,123.6 L259.3,125.4 L259.5,127.2 L259.8,129.1 L260.1,130.9 L260.4,132.8 L260.6,134.6 L260.9,136.5 L261.2,138.3 L261.4,140.2 L261.7,142.0 L261.9,143.9 L262.2,145.7 L262.4,147.6 L262.7,149.4 L262.9,151.3 L263.2,153.1 L263.4,155.0 L263.6,156.8 L263.9,158.7 L264.1,160.5 L264.4,162.4 L264.6,164.3 L264.8,166.1 L265.1,168.0 L265.3,169.8 L265.5,171.7 L265.8,173.5 L266.0,175.4 L266.2,177.2 L266.5,179.1 L266.7,180.9 L267.0,182.8 L267.2,184.6 L267.4,186.5 L267.7,188.3 L267.9,190.2 L268.2,192.1 L268.4,193.9 L268.6,195.8 L268.9,197.6 L269.1,199.5 L269.4,201.3 L269.6,203.2 L269.9,205.0 L270.2,206.9 L270.4,208.7 L270.7,210.6 L270.9,212.4 L271.2,214.3 L271.5,216.1 L271.8,217.9 L272.0,219.8 L272.3,221.6 L272.6,223.5 L272.9,225.3 L273.2,227.2 L273.5,229.0 L273.8,230.9 L274.1,232.7 L274.4,234.5 L274.7,236.4 L275.1,238.2 L275.4,240.0 L275.7,241.9 L276.1,243.7 L276.4,245.6 L276.8,247.4 L277.1,249.2 L277.5,251.1 L277.8,252.9 L278.2,254.7 L278.5,256.5 L278.9,258.4 L279.3,260.2 L279.7,262.0 L280.0,263.9 L280.4,265.7 L280.8,267.5 L281.2,269.3 L281.6,271.2 L282.0,273.0 L282.3,274.8 L282.7,276.7 L283.1,278.5 L283.5,280.3 L283.9,282.1 L284.3,284.0 L284.7,285.8 L285.1,287.6 L285.5,289.4 L285.9,291.3 L286.3,293.1 L286.7,294.9 L287.0,296.7 L287.4,298.6 L287.8,300.4 L288.2,302.2 L288.6,304.1 L289.0,305.9 L289.3,307.7 L289.7,309.5 L290.1,311.4 L290.5,313.2 L290.8,315.0 L291.2,316.9 L291.6,318.7 L291.9,320.5 L292.3,322.4 L292.7,324.2 L293.0,326.0 L293.4,327.9 L293.8,329.7 L294.1,331.5 L294.5,333.4 L294.9,335.2 L295.3,337.0 L295.8,338.8 L296.2,340.6 L296.6,342.4 L297.1,344.3 L297.6,346.1 L298.1,347.8 L298.6,349.6 L299.1,351.4 L299.7,353.2 L300.3,355.0 L300.9,356.8 L301.5,358.5 L302.1,360.3 L302.8,362.0 L303.4,363.8 L304.1,365.5 L304.8,367.2 L305.5,369.0 L306.2,370.7 L307.0,372.4 L307.7,374.1 L308.5,375.8 L309.2,377.5 L310.0,379.2 L310.8,380.9 L311.6,382.6 L312.4,384.3 L313.3,386.0 L314.1,387.6 L315.0,389.3 L315.8,390.9 L316.7,392.6 L317.7,394.2 L318.6,395.8 L319.6,397.4 L320.6,399.0 L321.6,400.6 L322.6,402.2 L323.7,403.7 L324.9,405.1 L326.2,406.4 L327.6,407.5 L329.2,408.5 L330.9,409.2 L332.8,409.8 L334.6,410.3 L336.5,410.7 L338.3,411.1 L340.1,411.5 L342.0,411.8 L343.8,412.1 L345.6,412.3 L347.5,412.6 L349.3,412.9 L351.1,413.2 L353.0,413.6 L354.8,413.9 L356.7,414.2 L358.6,414.5 L360.4,414.8 L362.3,414.9 L364.2,414.9 L366.0,414.8" stroke="#c8001a"/>
</g>
<rect x="186" y="412" width="304" height="1" fill="#042a6a" fill-opacity="0.07"/>
<rect x="128" y="412" width="225" height="1" fill="#000000" fill-opacity="0.04"/>
<rect x="91" y="413" width="461" height="1" fill="#ffffff" fill-opacity="0.8"/>
<rect x="111" y="413" width="255" height="1" fill="#000000" fill-opacity="0.035"/>
<rect x="366" y="413" width="167" height="1" fill="#042a6a" fill-opacity="0.035"/>
<rect x="111" y="414" width="255" height="1" fill="#000000" fill-opacity="0.13"/>
<rect x="366" y="414" width="167" height="1" fill="#042a6a" fill-opacity="0.13"/>
<g class="tick">
<text transform="translate(145.3,438.0) scale(1,1.035)" text-anchor="middle">2100</text>
<text transform="translate(200.9,438.0) scale(1,1.035)" text-anchor="middle">2200</text>
<text transform="translate(256.5,438.0) scale(1,1.035)" text-anchor="middle">2300</text>
<text transform="translate(312.1,438.0) scale(1,1.035)" text-anchor="middle">2400</text>
<text transform="translate(367.7,438.0) scale(1,1.035)" text-anchor="middle">2500</text>
<text transform="translate(423.3,438.0) scale(1,1.035)" text-anchor="middle">2600</text>
<text transform="translate(478.9,438.0) scale(1,1.035)" text-anchor="middle">2700</text>
<text transform="translate(534.5,438.0) scale(1,1.035)" text-anchor="middle">2800</text>
<text transform="translate(76.2,419.9) scale(1,1.035)" text-anchor="end">0.000</text>
<text transform="translate(76.2,369.2) scale(1,1.035)" text-anchor="end">0.001</text>
<text transform="translate(76.2,318.6) scale(1,1.035)" text-anchor="end">0.002</text>
<text transform="translate(76.2,267.9) scale(1,1.035)" text-anchor="end">0.003</text>
<text transform="translate(76.2,217.2) scale(1,1.035)" text-anchor="end">0.004</text>
<text transform="translate(76.2,166.5) scale(1,1.035)" text-anchor="end">0.005</text>
<text transform="translate(76.2,115.9) scale(1,1.035)" text-anchor="end">0.006</text>
<text transform="translate(76.2,65.2) scale(1,1.035)" text-anchor="end">0.007</text>
</g>
<text class="lab" x="321.5" y="458.8" text-anchor="middle">Simulated Performances</text>
<text class="lab" transform="translate(29.8,235.4) rotate(-90)" text-anchor="middle">Density</text>
<g class="leg">
<rect x="11.6" y="24.6" width="29.9" height="10.8" fill="#000000" fill-opacity="0.5" stroke="#c8001a" stroke-opacity="0.5" stroke-width="1.1"/>
<text x="53" y="35.4">Lyon Simulated Performances</text>
<rect x="288.6" y="24.6" width="30.2" height="10.8" fill="#042a6a" fill-opacity="0.5" stroke="#f8e71c" stroke-opacity="0.6" stroke-width="1.1"/>
<text x="331" y="35.4">Clermont Auvergne Simulated Performances</text>
</g>
</svg>
</body>
</html>
